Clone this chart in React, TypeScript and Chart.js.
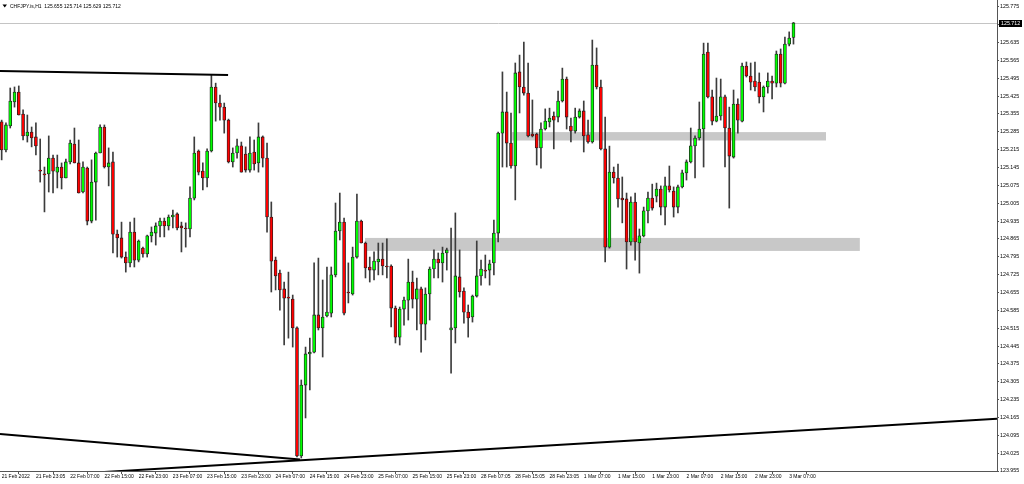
import React, { useEffect, useRef } from 'react';
import { Chart, registerables } from 'chart.js';

Chart.register(...registerables);

const symbolTitle = 'CHFJPY.is,H1';

const opens = [
  125.324, 125.214, 125.308, 125.402, 125.441, 125.355, 125.269, 125.284, 125.265, 125.135,
  125.120, 125.120, 125.182, 125.127, 125.147, 125.104, 125.167, 125.237, 125.163, 125.049,
  125.143, 124.935, 125.088, 125.202, 125.304, 125.147, 125.167, 124.884, 124.869, 124.794,
  124.771, 124.892, 124.782, 124.829, 124.806, 124.877, 124.888, 124.916, 124.935, 124.916,
  124.951, 124.963, 124.916, 124.908, 124.904, 125.025, 125.210, 125.131, 125.104, 125.210,
  125.461, 125.398, 125.382, 125.331, 125.167, 125.202, 125.230, 125.198, 125.135, 125.206,
  125.163, 125.265, 125.182, 124.951, 124.782, 124.731, 124.669, 124.637, 124.629, 124.516,
  124.014, 124.292, 124.414, 124.421, 124.567, 124.516, 124.563, 124.574, 124.724, 124.896,
  124.931, 124.657, 124.649, 124.794, 124.935, 124.849, 124.755, 124.743, 124.775, 124.786,
  124.759, 124.759, 124.594, 124.480, 124.590, 124.625, 124.696, 124.629, 124.669, 124.531,
  124.649, 124.747, 124.786, 124.771, 124.810, 124.508, 124.516, 124.716, 124.661, 124.578,
  124.559, 124.641, 124.720, 124.743, 124.743, 124.771, 124.888, 125.280, 125.363, 125.241,
  125.151, 125.520, 125.461, 125.437, 125.276, 125.276, 125.222, 125.296, 125.324, 125.347,
  125.343, 125.406, 125.492, 125.308, 125.288, 125.343, 125.367, 125.273, 125.245, 125.547,
  125.461, 125.218, 124.833, 125.127, 125.104, 125.025, 125.022, 124.853, 125.010, 124.849,
  124.877, 124.975, 125.025, 125.033, 125.061, 124.990, 125.073, 125.053, 124.990, 125.069,
  125.124, 125.167, 125.230, 125.261, 125.296, 125.598, 125.422, 125.327, 125.347, 125.422,
  125.300, 125.186, 125.394, 125.327, 125.543, 125.504, 125.484, 125.480, 125.422, 125.461,
  125.484, 125.476, 125.590, 125.476, 125.629, 125.655,
];

const highs = [
  125.331, 125.320, 125.457, 125.461, 125.465, 125.371, 125.351, 125.304, 125.320, 125.257,
  125.147, 125.269, 125.194, 125.194, 125.163, 125.178, 125.253, 125.300, 125.253, 125.167,
  125.147, 125.175, 125.206, 125.312, 125.312, 125.222, 125.206, 124.900, 124.931, 124.814,
  124.931, 124.947, 124.861, 124.833, 124.880, 124.912, 124.928, 124.947, 124.947, 124.959,
  124.978, 124.967, 124.931, 124.928, 125.069, 125.265, 125.214, 125.163, 125.218, 125.508,
  125.476, 125.429, 125.398, 125.335, 125.222, 125.257, 125.245, 125.226, 125.265, 125.253,
  125.320, 125.269, 125.241, 125.010, 124.794, 124.743, 124.696, 124.735, 124.645, 124.520,
  124.312, 124.441, 124.476, 124.771, 124.790, 124.704, 124.755, 124.755, 125.006, 125.045,
  124.947, 124.771, 124.833, 125.041, 124.939, 124.853, 124.794, 124.814, 124.849, 124.849,
  124.865, 124.763, 124.602, 124.598, 124.637, 124.786, 124.739, 124.712, 124.676, 124.673,
  124.755, 124.822, 124.810, 124.833, 124.829, 124.908, 124.967, 124.822, 124.673, 124.606,
  124.645, 124.857, 124.782, 124.802, 124.782, 124.939, 125.284, 125.520, 125.441, 125.359,
  125.555, 125.586, 125.637, 125.555, 125.410, 125.280, 125.320, 125.375, 125.378, 125.363,
  125.445, 125.535, 125.500, 125.339, 125.378, 125.375, 125.406, 125.331, 125.645, 125.614,
  125.488, 125.343, 125.229, 125.147, 125.159, 125.108, 125.045, 125.030, 125.045, 124.904,
  124.990, 125.049, 125.080, 125.084, 125.073, 125.108, 125.151, 125.069, 125.076, 125.135,
  125.175, 125.300, 125.269, 125.402, 125.633, 125.633, 125.449, 125.496, 125.492, 125.429,
  125.382, 125.449, 125.414, 125.555, 125.559, 125.555, 125.559, 125.516, 125.465, 125.516,
  125.504, 125.602, 125.610, 125.657, 125.677, 125.714,
];

const lows = [
  125.175, 125.206, 125.300, 125.382, 125.351, 125.253, 125.245, 125.226, 125.194, 125.088,
  124.971, 125.049, 125.045, 125.065, 125.061, 125.104, 125.159, 125.163, 125.045, 125.045,
  124.920, 124.928, 124.939, 125.202, 125.143, 125.073, 124.810, 124.794, 124.790, 124.735,
  124.755, 124.755, 124.775, 124.794, 124.794, 124.853, 124.841, 124.873, 124.873, 124.900,
  124.908, 124.900, 124.814, 124.833, 124.873, 125.018, 125.116, 125.057, 125.069, 125.206,
  125.327, 125.331, 125.280, 125.163, 125.147, 125.182, 125.127, 125.127, 125.127, 125.135,
  125.127, 125.147, 124.892, 124.657, 124.665, 124.586, 124.449, 124.476, 124.441, 124.010,
  124.006, 124.163, 124.273, 124.418, 124.508, 124.402, 124.559, 124.559, 124.716, 124.861,
  124.567, 124.614, 124.645, 124.790, 124.849, 124.712, 124.696, 124.704, 124.724, 124.724,
  124.712, 124.520, 124.457, 124.449, 124.527, 124.547, 124.594, 124.508, 124.421, 124.469,
  124.547, 124.712, 124.712, 124.696, 124.743, 124.339, 124.457, 124.637, 124.535, 124.480,
  124.539, 124.637, 124.684, 124.712, 124.684, 124.724, 124.853, 125.147, 125.147, 125.143,
  125.018, 125.359, 125.429, 125.265, 125.265, 125.155, 125.143, 125.292, 125.304, 125.218,
  125.324, 125.402, 125.296, 125.245, 125.280, 125.339, 125.206, 125.241, 125.241, 125.453,
  125.214, 124.775, 124.829, 125.084, 124.990, 124.928, 124.747, 124.841, 124.782, 124.731,
  124.873, 124.928, 124.978, 125.010, 124.959, 124.920, 125.049, 124.951, 124.967, 125.065,
  125.096, 125.163, 125.104, 125.253, 125.147, 125.418, 125.312, 125.324, 125.331, 125.147,
  124.986, 125.182, 125.280, 125.324, 125.500, 125.449, 125.445, 125.398, 125.363, 125.437,
  125.414, 125.461, 125.461, 125.473, 125.622, 125.629,
];

const closes = [
  125.214, 125.312, 125.406, 125.441, 125.351, 125.269, 125.284, 125.261, 125.230, 125.131,
  125.116, 125.182, 125.131, 125.147, 125.104, 125.167, 125.241, 125.163, 125.045, 125.147,
  124.935, 125.088, 125.202, 125.304, 125.147, 125.163, 124.884, 124.869, 124.794, 124.771,
  124.892, 124.782, 124.857, 124.806, 124.877, 124.892, 124.916, 124.935, 124.916, 124.951,
  124.959, 124.908, 124.908, 124.904, 125.025, 125.202, 125.127, 125.104, 125.210, 125.461,
  125.398, 125.382, 125.331, 125.167, 125.202, 125.230, 125.127, 125.135, 125.202, 125.159,
  125.265, 125.182, 124.951, 124.778, 124.720, 124.665, 124.633, 124.633, 124.516, 124.014,
  124.292, 124.414, 124.421, 124.567, 124.516, 124.559, 124.578, 124.724, 124.896, 124.931,
  124.574, 124.653, 124.794, 124.935, 124.849, 124.751, 124.743, 124.778, 124.786, 124.759,
  124.755, 124.594, 124.480, 124.590, 124.625, 124.696, 124.629, 124.669, 124.531, 124.649,
  124.747, 124.786, 124.771, 124.810, 124.822, 124.516, 124.720, 124.657, 124.578, 124.555,
  124.641, 124.720, 124.747, 124.739, 124.767, 124.888, 125.280, 125.363, 125.241, 125.151,
  125.516, 125.461, 125.437, 125.269, 125.269, 125.222, 125.296, 125.327, 125.339, 125.331,
  125.406, 125.492, 125.343, 125.288, 125.343, 125.367, 125.269, 125.245, 125.547, 125.461,
  125.218, 124.833, 125.127, 125.104, 125.022, 125.018, 124.853, 125.010, 124.853, 124.877,
  124.975, 125.025, 124.986, 125.061, 124.990, 125.073, 125.057, 124.990, 125.069, 125.124,
  125.167, 125.230, 125.261, 125.296, 125.590, 125.422, 125.327, 125.347, 125.422, 125.300,
  125.190, 125.394, 125.331, 125.543, 125.504, 125.480, 125.461, 125.422, 125.461, 125.484,
  125.476, 125.590, 125.476, 125.629, 125.653, 125.712,
];

const xTickIndex = [0, 8, 16, 24, 32, 40, 48, 56, 64, 72, 80, 88, 96, 104, 112, 120, 128, 136, 144, 152, 160, 168, 176, 184];
const xTickLabels = [
  '21 Feb 2022', '21 Feb 23:05', '22 Feb 07:00', '22 Feb 15:00', '22 Feb 23:00', '23 Feb 07:00',
  '23 Feb 15:00', '23 Feb 23:00', '24 Feb 07:00', '24 Feb 15:00', '24 Feb 23:00', '25 Feb 07:00',
  '25 Feb 15:00', '25 Feb 23:00', '28 Feb 07:05', '28 Feb 15:05', '28 Feb 23:05', '1 Mar 07:00',
  '1 Mar 15:00', '1 Mar 23:00', '2 Mar 07:00', '2 Mar 15:00', '2 Mar 23:00', '3 Mar 07:00',
];

const yTickValues = [
  125.775, 125.705, 125.635, 125.565, 125.495, 125.425, 125.355, 125.285, 125.215, 125.145,
  125.075, 125.005, 124.935, 124.865, 124.795, 124.725, 124.655, 124.585, 124.515, 124.445,
  124.375, 124.305, 124.235, 124.165, 124.095, 124.025, 123.955,
];

// trend lines (bar index, price)
const topLineX = [-0.39, 52.9];
const topLineY = [125.524, 125.508];
const lowLineAX = [-0.39, 69.7];
const lowLineAY = [124.1, 124.0];
const lowLineBX = [23.9, 232.55];
const lowLineBY = [123.951, 124.16];

// support / resistance zones
const zoneStart = [119.2, 84.9];
const zoneEnd = [192.6, 200.5];
const zoneHigh = [125.284, 124.869];
const zoneLow = [125.251, 124.818];

const xMin = -0.39;
const xMax = 232.55;
const yMin = 123.955;
const yMax = 125.802;

const FONT = "'Liberation Sans', Arial, sans-serif";

export default function App() {
  const ref = useRef<HTMLCanvasElement>(null);

  useEffect(() => {
    const canvas = ref.current;
    if (!canvas) return;
    const idx = opens.map((_, i) => i);
    const bodyData = idx.map((i) => ({ x: i, y: [opens[i], closes[i]] }));
    const wickData = idx.map((i) => ({ x: i, y: [lows[i], highs[i]] }));
    const bodyColors = idx.map((i) => (closes[i] >= opens[i] ? '#00ff00' : '#ff0000'));
    const last = opens.length - 1;
    const lastPrice = closes[last];

    const overlay = {
      id: 'mtOverlay',
      beforeDatasetsDraw(chart: any) {
        const { ctx, chartArea, scales } = chart;
        const x = scales.x;
        const y = scales.y;
        ctx.save();
        ctx.beginPath();
        ctx.rect(chartArea.left, chartArea.top, chartArea.right - chartArea.left, chartArea.bottom - chartArea.top);
        ctx.clip();
        ctx.fillStyle = '#c8c8c8';
        for (let k = 0; k < zoneStart.length; k++) {
          const x0 = x.getPixelForValue(zoneStart[k]);
          const x1 = x.getPixelForValue(zoneEnd[k]);
          const y0 = y.getPixelForValue(zoneHigh[k]);
          const y1 = y.getPixelForValue(zoneLow[k]);
          ctx.fillRect(x0, y0, x1 - x0, y1 - y0);
        }
        const yb = Math.round(y.getPixelForValue(lastPrice)) + 0.5;
        ctx.strokeStyle = '#c4c4c4';
        ctx.lineWidth = 1;
        ctx.beginPath();
        ctx.moveTo(chartArea.left, yb);
        ctx.lineTo(chartArea.right, yb);
        ctx.stroke();
        ctx.restore();
      },
      afterDraw(chart: any) {
        const { ctx, scales } = chart;
        const y = scales.y;
        ctx.save();
        // header
        ctx.fillStyle = '#000';
        ctx.beginPath();
        ctx.moveTo(2.5, 4.5);
        ctx.lineTo(7, 4.5);
        ctx.lineTo(4.75, 7.5);
        ctx.closePath();
        ctx.fill();
        ctx.font = `5px ${FONT}`;
        ctx.textBaseline = 'middle';
        ctx.textAlign = 'left';
        ctx.fillText(
          `${symbolTitle}  ${opens[last].toFixed(3)} ${highs[last].toFixed(3)} ${lows[last].toFixed(3)} ${closes[last].toFixed(3)}`,
          10,
          6.5
        );
        // current price box
        const yb = Math.round(y.getPixelForValue(lastPrice)) + 0.5;
        ctx.fillStyle = '#000';
        ctx.fillRect(999, yb - 3.5, 23, 7);
        ctx.fillStyle = '#fff';
        ctx.font = `5.3px ${FONT}`;
        ctx.fillText(lastPrice.toFixed(3), 1001, yb);
        ctx.restore();
      },
    };

    const lineDs = (xs: number[], ys: number[]) => ({
      type: 'line' as const,
      data: [
        { x: xs[0], y: ys[0] },
        { x: xs[1], y: ys[1] },
      ],
      borderColor: '#000',
      borderWidth: 2,
      pointRadius: 0,
      fill: false,
      order: 0,
    });

    const chart = new Chart(canvas, {
      type: 'bar',
      data: {
        datasets: [
          lineDs(topLineX, topLineY) as any,
          lineDs(lowLineAX, lowLineAY) as any,
          lineDs(lowLineBX, lowLineBY) as any,
          {
            type: 'bar',
            data: bodyData as any,
            backgroundColor: bodyColors,
            borderColor: '#1e1e1e',
            borderWidth: 0.8,
            borderSkipped: false,
            barThickness: 3,
            minBarLength: 1,
            grouped: false,
            order: 1,
          } as any,
          {
            type: 'bar',
            data: wickData as any,
            backgroundColor: '#3c3c3c',
            borderWidth: 0,
            barThickness: 1,
            grouped: false,
            order: 2,
          } as any,
        ],
      },
      options: {
        animation: false,
        responsive: false,
        events: [],
        layout: { padding: 0 },
        plugins: {
          legend: { display: false },
          tooltip: { enabled: false },
          title: { display: false },
        },
        scales: {
          x: {
            type: 'linear',
            min: xMin,
            max: xMax,
            offset: false,
            bounds: 'data',
            position: 'bottom',
            afterBuildTicks: (s: any) => {
              s.ticks = xTickIndex.map((v) => ({ value: v }));
            },
            afterFit: (s: any) => {
              s.height = 13;
              s.paddingLeft = 0;
              s.paddingRight = 0;
              s.paddingTop = 0;
              s.paddingBottom = 0;
            },
            ticks: {
              autoSkip: false,
              maxRotation: 0,
              minRotation: 0,
              align: 'start',
              padding: 0,
              color: '#000',
              font: { family: FONT, size: 5 },
              callback: (v: any) => {
                const k = xTickIndex.indexOf(Number(v));
                return k >= 0 ? xTickLabels[k] : '';
              },
            },
            grid: { drawOnChartArea: false, drawTicks: true, tickLength: 3, color: '#555' },
            border: { display: true, color: '#555', width: 1 },
          } as any,
          y: {
            type: 'linear',
            position: 'right',
            min: yMin,
            max: yMax,
            bounds: 'data',
            afterBuildTicks: (s: any) => {
              s.ticks = yTickValues.map((v) => ({ value: v }));
            },
            afterFit: (s: any) => {
              s.width = 27;
              s.paddingLeft = 0;
              s.paddingRight = 0;
              s.paddingTop = 0;
              s.paddingBottom = 0;
            },
            ticks: {
              autoSkip: false,
              padding: 1,
              color: '#000',
              font: { family: FONT, size: 5.3 },
              callback: (v: any) => Number(v).toFixed(3),
            },
            grid: { drawOnChartArea: false, drawTicks: true, tickLength: 2, color: '#555' },
            border: { display: true, color: '#555', width: 1 },
          } as any,
        },
      },
      plugins: [overlay],
    });

    return () => {
      chart.destroy();
    };
  }, []);

  return (
    <div style={{ position: 'absolute', left: 0, top: 0, width: 1024, height: 484, background: '#fff' }}>
      <canvas ref={ref} width={1024} height={484} style={{ display: 'block', width: 1024, height: 484 }} />
    </div>
  );
}
